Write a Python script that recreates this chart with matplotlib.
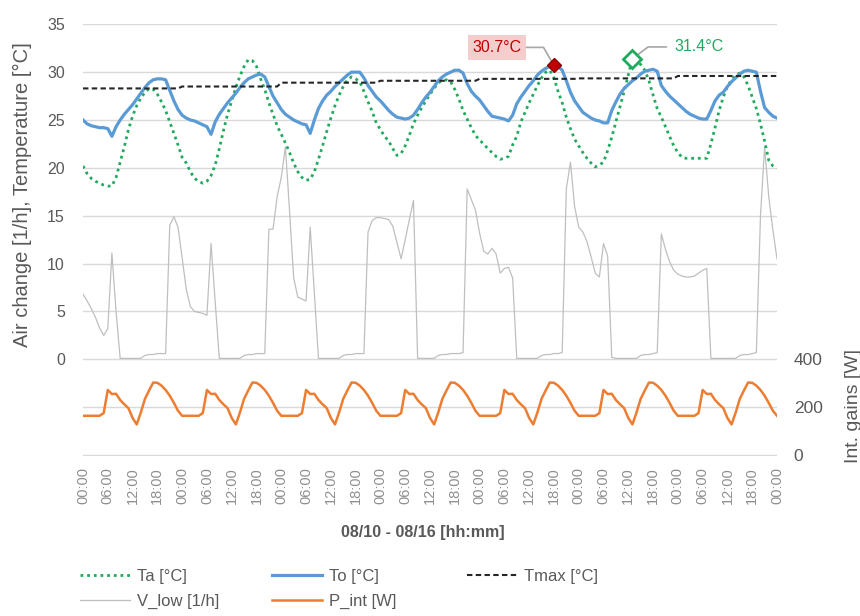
import numpy as np
import matplotlib
matplotlib.use("Agg")
import matplotlib.pyplot as plt
from matplotlib.lines import Line2D

plt.rcParams['font.family'] = ['Liberation Sans', 'DejaVu Sans']

# hourly values, 08/10 00:00 .. 08/17 00:00
hours = np.arange(169)

ta_temp = [
    20.2, 19.4, 18.9, 18.6, 18.4, 18.2, 18.1, 18.1, 19.0, 20.6, 22.2, 24.0, 25.4, 26.5, 27.3, 27.9, 28.3, 28.2, 27.7, 26.9, 26.0, 24.8, 23.6, 22.4,
    21.1, 20.5, 19.6, 18.9, 18.6, 18.4, 18.6, 19.2, 20.3, 22.0, 23.9, 25.6, 27.0, 28.4, 29.6, 30.6, 31.3, 31.2, 30.6, 29.3, 28.2, 26.8, 25.6, 24.4,
    23.5, 22.6, 21.6, 20.5, 19.6, 19.0, 18.7, 18.8, 19.6, 20.9, 22.3, 23.8, 25.2, 26.5, 27.6, 28.5, 29.2, 29.5, 29.3, 29.0, 28.0, 26.9, 25.9, 24.7,
    24.0, 23.3, 22.8, 22.0, 21.3, 21.5, 22.3, 23.4, 24.6, 25.5, 26.3, 27.0, 27.7, 28.3, 28.9, 29.1, 29.2, 29.0, 28.2, 27.2, 26.0, 25.1, 24.2, 23.4,
    22.9, 22.5, 22.0, 21.6, 21.2, 20.9, 21.0, 21.2, 22.4, 23.3, 24.8, 25.8, 26.8, 27.7, 28.6, 29.4, 30.0, 30.2, 29.4, 28.0, 26.8, 25.3, 24.1, 23.0,
    22.3, 21.6, 21.0, 20.5, 20.1, 20.3, 20.6, 21.8, 23.2, 24.8, 26.4, 28.0, 29.7, 31.4, 31.3, 30.8, 30.2, 29.1, 27.6, 26.2, 25.3, 24.3, 23.3, 22.3,
    21.6, 21.1, 21.0, 21.0, 21.0, 21.0, 21.0, 21.0, 22.5, 24.2, 26.0, 27.4, 28.5, 29.2, 29.7, 29.9, 29.5, 28.6, 27.4, 26.2, 24.6, 22.8, 20.8, 20.2,
    20.0,
]

to_temp = [
    25.0, 24.6, 24.4, 24.3, 24.2, 24.2, 24.1, 23.3, 24.3, 25.0, 25.6, 26.1, 26.6, 27.2, 27.8, 28.4, 28.9, 29.2, 29.3, 29.3, 29.2, 28.1, 27.0, 26.1,
    25.5, 25.2, 25.0, 24.9, 24.7, 24.5, 24.3, 23.5, 24.8, 25.6, 26.2, 26.8, 27.3, 27.8, 28.4, 28.9, 29.3, 29.5, 29.7, 29.8, 29.5, 28.5, 27.5, 26.8,
    26.1, 25.6, 25.3, 25.0, 24.8, 24.6, 24.5, 23.6, 25.0, 26.2, 27.0, 27.6, 28.0, 28.5, 28.9, 29.3, 29.7, 30.0, 30.0, 30.0, 29.4, 28.6, 28.0, 27.4,
    27.0, 26.5, 26.0, 25.6, 25.3, 25.2, 25.1, 25.2, 25.5, 26.1, 26.8, 27.4, 27.9, 28.5, 29.1, 29.5, 29.8, 30.0, 30.2, 30.2, 29.9, 28.8, 28.0, 27.5,
    27.1, 26.5, 25.9, 25.4, 25.3, 25.2, 25.1, 24.9, 25.5, 26.7, 27.4, 28.0, 28.6, 29.1, 29.7, 30.1, 30.4, 30.6, 30.7, 30.6, 30.2, 29.1, 27.9, 27.0,
    26.4, 25.8, 25.5, 25.2, 25.0, 24.9, 24.7, 24.7, 26.0, 26.9, 27.7, 28.3, 28.7, 29.1, 29.4, 29.8, 30.1, 30.2, 30.3, 30.1, 28.6, 28.0, 27.5, 27.1,
    26.7, 26.3, 25.9, 25.6, 25.4, 25.2, 25.1, 25.1, 26.0, 27.0, 27.6, 27.9, 28.5, 29.0, 29.4, 29.8, 30.1, 30.2, 30.1, 30.0, 28.0, 26.3, 25.8, 25.4,
    25.2,
]

# Tmax level for each day (changes shortly after midnight)
tmax_daily = [28.3, 28.5, 28.9, 29.1, 29.3, 29.35, 29.6]

v_low = [
    6.8, 6.1, 5.3, 4.4, 3.3, 2.5, 3.2, 11.1, 5.0, 0.1, 0.1, 0.1, 0.1, 0.1, 0.1, 0.4, 0.5, 0.5, 0.6, 0.6, 0.6, 14.0, 14.9, 13.8,
    10.6, 7.3, 5.5, 5.0, 4.9, 4.8, 4.6, 12.1, 6.0, 0.1, 0.1, 0.1, 0.1, 0.1, 0.1, 0.4, 0.5, 0.5, 0.6, 0.6, 0.6, 13.6, 13.6, 17.0,
    19.0, 22.2, 15.5, 8.5, 6.5, 6.3, 6.1, 13.8, 7.0, 0.1, 0.1, 0.1, 0.1, 0.1, 0.1, 0.4, 0.5, 0.5, 0.6, 0.6, 0.6, 13.3, 14.5, 14.8,
    14.8, 14.7, 14.6, 13.9, 12.2, 10.5, 12.5, 14.6, 16.6, 0.1, 0.1, 0.1, 0.1, 0.1, 0.4, 0.5, 0.5, 0.6, 0.6, 0.6, 0.7, 17.8, 16.7, 15.6,
    13.2, 11.3, 11.0, 11.6, 11.0, 9.0, 9.5, 9.6, 8.5, 0.1, 0.1, 0.1, 0.1, 0.1, 0.1, 0.4, 0.5, 0.5, 0.6, 0.6, 0.7, 17.8, 20.6, 16.0,
    13.8, 13.3, 12.3, 10.7, 9.0, 8.6, 12.1, 10.8, 0.2, 0.1, 0.1, 0.1, 0.1, 0.1, 0.1, 0.4, 0.5, 0.5, 0.6, 0.7, 13.1, 11.5, 10.2, 9.3,
    8.9, 8.7, 8.6, 8.6, 8.7, 9.0, 9.3, 9.5, 0.1, 0.1, 0.1, 0.1, 0.1, 0.1, 0.1, 0.4, 0.5, 0.5, 0.6, 0.7, 15.0, 22.2, 17.0, 13.5,
    10.5,
]

# internal gains follow the same daily schedule every day
p_int_day = [164, 164, 164, 164, 164, 175, 272, 255, 256, 230, 212, 196, 155, 128, 178, 235, 270, 303, 302, 290, 272, 248, 218, 185]

tick_labels = ["00:00", "06:00", "12:00", "18:00"] * 7 + ["00:00"]

t_max = np.append(np.repeat(tmax_daily, 24), tmax_daily[-1])
p_int = np.append(np.tile(p_int_day, 7), p_int_day[0])

GREY_TXT = '#595959'
GREEN = '#1FAA5E'

fig = plt.figure(figsize=(8.6, 6.16), dpi=100)
ax = fig.add_axes([83 / 860, 1 - 456 / 616, 694 / 860, 432 / 616])
ax2 = ax.twinx()

ax.plot(hours, v_low, color='#BFBFBF', lw=0.9, zorder=2)
ax.plot(hours, ta_temp, color=GREEN, lw=2.0, linestyle=(0, (1, 1.4)), zorder=3)
ax.plot(hours, to_temp, color='#5B9BD5', lw=2.3, zorder=4)
ax.plot(hours, t_max, color='#262626', lw=1.5, linestyle=(0, (2.6, 1.6)), zorder=4)
ax2.plot(hours, p_int, color='#ED7D31', lw=1.8)

# small margin so the outer gridlines are not clipped
lo, hi = -10.1, 35.03
ax.set_xlim(0, 168)
ax.set_ylim(lo, hi)
ax2.set_ylim((lo + 10) * 40, (hi + 10) * 40)

ax.set_xticks(np.arange(0, 169, 6))
ax.set_xticklabels(tick_labels)
ax.tick_params(axis='x', length=0, pad=8, labelrotation=90, labelsize=10.5, labelcolor='#8F8F8F')

yt = np.arange(-10, 36, 5)
ax.set_yticks(yt)
ax.set_yticklabels([str(v) if v >= 0 else '' for v in yt])
ax.tick_params(axis='y', length=0, pad=13, labelsize=11.5, labelcolor=GREY_TXT)
ax.grid(axis='y', color='#D9D9D9', lw=1.0)
ax.set_axisbelow(True)

ax2.set_yticks([0, 200, 400])
ax2.tick_params(axis='y', length=0, pad=12, labelsize=12.5, labelcolor=GREY_TXT)

for a in (ax, ax2):
    for s in a.spines.values():
        s.set_visible(False)

# axis titles
fig.text(22 / 860, 1 - 195 / 616, 'Air change [1/h], Temperature [°C]', rotation=90,
         ha='center', va='center', fontsize=14.5, color=GREY_TXT)
fig.text(853 / 860, 1 - 406 / 616, 'Int. gains [W]', rotation=90,
         ha='center', va='center', fontsize=14, color=GREY_TXT)
fig.text(423 / 860, 1 - 532 / 616, '08/10 - 08/16 [hh:mm]', ha='center', va='center',
         fontsize=11.5, fontweight='bold', color=GREY_TXT)

# max markers
i_to = int(np.argmax(to_temp))
i_ta = int(np.argmax(ta_temp))
ax.plot(hours[i_to], to_temp[i_to], marker='D', ms=7, color='#C00000', mec='#8B0000', zorder=6)
ax.plot(hours[i_ta], ta_temp[i_ta], marker='D', ms=9, mfc='white', mec=GREEN, mew=2, zorder=6)

ax.annotate(f'{to_temp[i_to]:.1f}°C', xy=(hours[i_to], to_temp[i_to]),
            xytext=(-41, 13), textcoords='offset points', ha='center', va='center',
            fontsize=11.5, color='#C00000',
            bbox=dict(boxstyle='square,pad=0.3', fc='#F6CDCD', ec='none'),
            arrowprops=dict(arrowstyle='-', color='#A6A6A6', lw=1.2, relpos=(1, 0.5),
                            shrinkA=0, shrinkB=2,
                            connectionstyle='angle,angleA=0,angleB=120,rad=0'),
            zorder=5)
ax.annotate(f'{ta_temp[i_ta]:.1f}°C', xy=(hours[i_ta], ta_temp[i_ta]),
            xytext=(48, 8.5), textcoords='offset points', ha='center', va='center',
            fontsize=11.5, color=GREEN,
            bbox=dict(boxstyle='square,pad=0.5', fc='none', ec='none'),
            arrowprops=dict(arrowstyle='-', color='#A6A6A6', lw=1.2, relpos=(0, 0.5),
                            shrinkA=0, shrinkB=5,
                            connectionstyle='angle,angleA=0,angleB=37,rad=0'),
            zorder=5)

# legend, three columns
h_ta = Line2D([], [], color=GREEN, lw=2.0, linestyle=(0, (1, 1.4)))
h_to = Line2D([], [], color='#5B9BD5', lw=2.3)
h_tmax = Line2D([], [], color='#262626', lw=1.5, linestyle=(0, (2.6, 1.6)))
h_v = Line2D([], [], color='#BFBFBF', lw=0.9)
h_p = Line2D([], [], color='#ED7D31', lw=1.8)

columns = [([h_ta, h_v], ['Ta [°C]', 'V_low [1/h]'], 80),
           ([h_to, h_p], ['To [°C]', 'P_int [W]'], 272),
           ([h_tmax], ['Tmax [°C]'], 467)]
for handles, labels, x0 in columns:
    leg = fig.legend(handles, labels, loc='upper left', bbox_to_anchor=(x0 / 860, 1 - 569 / 616),
                     frameon=False, borderaxespad=0, borderpad=0, handlelength=3.0,
                     handletextpad=0.4, labelspacing=0.58, prop={'size': 12})
    for t in leg.get_texts():
        t.set_color(GREY_TXT)

fig.savefig('out.png', dpi=100)
